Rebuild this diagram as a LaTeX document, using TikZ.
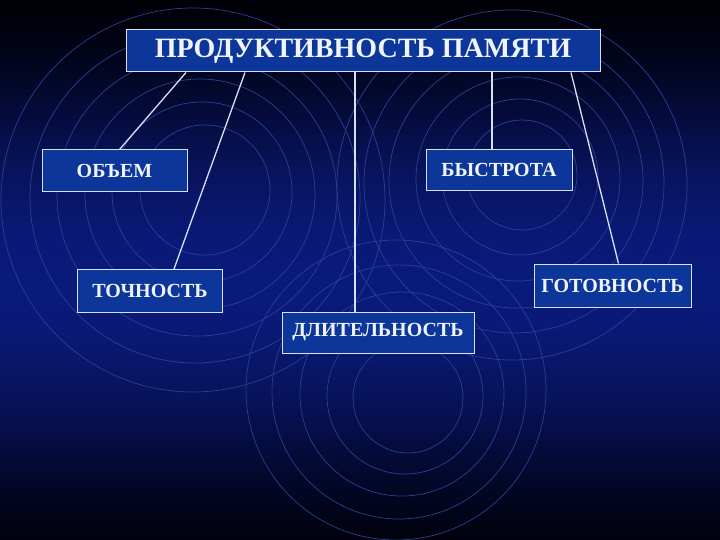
\documentclass[tikz,border=0pt]{standalone}
\usepackage{fontspec}
\setmainfont{Liberation Serif}

\definecolor{bgtop}{RGB}{0,0,8}
\definecolor{bgmid}{RGB}{10,26,122}
\definecolor{ringcol}{RGB}{42,64,150}
\definecolor{boxfill}{RGB}{12,54,154}
\definecolor{boxline}{RGB}{215,225,245}
\definecolor{labeltext}{RGB}{240,244,252}

\tikzset{
  box/.style={draw=boxline, fill=boxfill, line width=1pt, text=labeltext,
    font=\bfseries\fontsize{20}{24}\selectfont, inner sep=0pt},
  ring/.style={draw=ringcol, line width=0.7pt},
  link/.style={draw=boxline, line width=1.3pt},
}

\begin{document}
\begin{tikzpicture}[x=1pt,y=-1pt]
\useasboundingbox (0,0) rectangle (720,540);
% background, strip by strip
\foreach \i in {0,...,107}{
  \pgfmathsetmacro\yy{\i*5}
  \pgfmathsetmacro\p{100*pow(sin(\yy*0.3214),1.5)}
  \fill[bgmid!\p!bgtop] (0,\yy) rectangle (720,\yy+5.5);
}

% ripples
\foreach \r/\dx/\dy in {65/0/0, 90/-3/2, 115/-5/4, 140/-8/6, 165/-10/8, 192/-12/10}
  \draw[ring] (205+\dx,190+\dy) circle (\r);
\foreach \r/\dx/\dy in {55/0/0, 78/-2/2, 102/-4/4, 127/-6/6, 150/-8/8, 175/-10/10}
  \draw[ring] (522+\dx,175+\dy) circle (\r);
\foreach \r/\dx/\dy in {55/0/0, 78/-3/-2, 102/-6/-4, 127/-9/-6, 150/-12/-8}
  \draw[ring] (408+\dx,398+\dy) circle (\r);

\node[box, minimum width=474pt, minimum height=42pt, font=\bfseries\fontsize{28}{32}\selectfont]
  (title) at (363,51) {ПРОДУКТИВНОСТЬ ПАМЯТИ};
\node[box, minimum width=145pt, minimum height=42pt] (obem) at (114.5,171) {ОБЪЕМ};
\node[box, minimum width=146pt, minimum height=41pt] (bystr) at (499,170) {БЫСТРОТА};
\node[box, minimum width=145pt, minimum height=43pt] (tochn) at (150,291) {ТОЧНОСТЬ};
\node[box, minimum width=192pt, minimum height=41pt] (dlit) at (378,332.5) {ДЛИТЕЛЬНОСТЬ};
\node[box, minimum width=157pt, minimum height=43pt] (gotov) at (612.5,285.5) {ГОТОВНОСТЬ};

\draw[link] ([xshift=-177pt]title.south) -- ([xshift=5pt]obem.north);
\draw[link] ([xshift=-118pt]title.south) -- ([xshift=24pt]tochn.north);
\draw[link] ([xshift=-23pt]dlit.north) -- ([xshift=-23pt]dlit.north |- title.south);
\draw[link] ([xshift=-7pt]bystr.north) -- ([xshift=-7pt]bystr.north |- title.south);
\draw[link] ([xshift=208pt]title.south) -- ([xshift=6pt]gotov.north);
\end{tikzpicture}
\end{document}
